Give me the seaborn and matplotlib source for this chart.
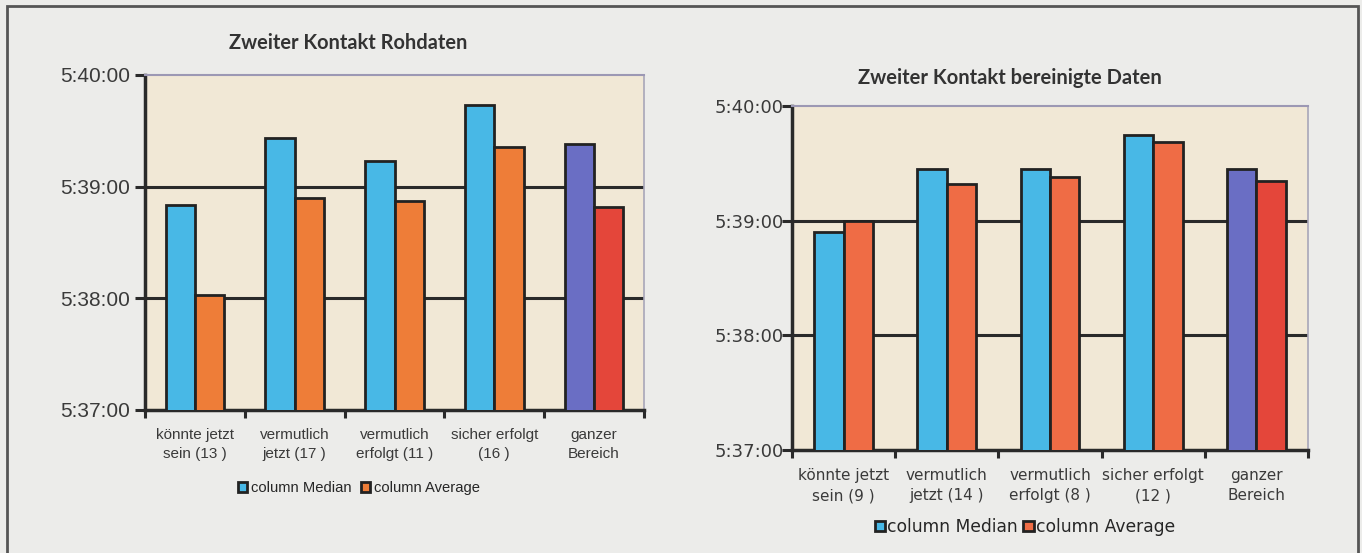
import pandas as pd
import matplotlib
matplotlib.use("Agg")
import matplotlib.pyplot as plt
import matplotlib.ticker as mticker
from matplotlib.patches import Rectangle
import seaborn as sns

# data (times of day)
cats_raw = ["könnte jetzt\nsein (13 )", "vermutlich\njetzt (17 )", "vermutlich\nerfolgt (11 )",
            "sicher erfolgt\n(16 )", "ganzer\nBereich"]
median_raw = ["5:38:50", "5:39:26", "5:39:14", "5:39:44", "5:39:23"]
average_raw = ["5:38:02", "5:38:54", "5:38:52", "5:39:21", "5:38:49"]

cats_clean = ["könnte jetzt\nsein (9 )", "vermutlich\njetzt (14 )", "vermutlich\nerfolgt (8 )",
              "sicher erfolgt\n(12 )", "ganzer\nBereich"]
median_clean = ["5:38:54", "5:39:27", "5:39:27", "5:39:45", "5:39:27"]
average_clean = ["5:39:00", "5:39:19", "5:39:23", "5:39:41", "5:39:21"]

y_ticks = ["5:37:00", "5:38:00", "5:39:00", "5:40:00"]


def to_sec(s):
    h, m, sec = [int(v) for v in s.split(":")]
    return h * 3600 + m * 60 + sec


def fmt_time(v, pos):
    v = int(round(v))
    return f"{v // 3600}:{(v % 3600) // 60:02d}:{v % 60:02d}"


def make_df(cats, med, avg):
    rows = []
    for c, m, a in zip(cats, med, avg):
        rows.append([c, "column Median", to_sec(m)])
        rows.append([c, "column Average", to_sec(a)])
    return pd.DataFrame(rows, columns=["cat", "series", "sec"])


df_raw = make_df(cats_raw, median_raw, average_raw)
df_clean = make_df(cats_clean, median_clean, average_clean)

sns.set_style("white")
bg = "#ececea"
fig = plt.figure(figsize=(13.62, 5.53), dpi=100, facecolor=bg)

ax1 = fig.add_axes([0.1065, 0.2586, 0.3663, 0.606])
ax2 = fig.add_axes([0.5815, 0.1863, 0.3789, 0.622])


def draw(ax, df, pal, last_cols, width, tick_font, tick_size, ypad, xt_font, xt_size, xpad):
    sns.barplot(data=df, x="cat", y="sec", hue="series", palette=pal, width=width, gap=0,
                saturation=1, edgecolor="#222222", linewidth=2, ax=ax, zorder=3)
    for cont, col in zip(ax.containers, last_cols):
        cont[-1].set_facecolor(col)
    ax.get_legend().remove()
    ax.set_facecolor("#f1e8d6")
    ax.set_ylim(to_sec(y_ticks[0]), to_sec(y_ticks[-1]))
    ax.set_xlim(-0.5, len(df["cat"].unique()) - 0.5)
    ax.set_yticks([to_sec(t) for t in y_ticks])
    ax.yaxis.set_major_formatter(mticker.FuncFormatter(fmt_time))
    for t in y_ticks[1:-1]:
        ax.axhline(to_sec(t), color="#2a2a2a", lw=2.2, zorder=1)
    ax.set_xlabel("")
    ax.set_ylabel("")
    for s in ["left", "bottom"]:
        ax.spines[s].set_color("#2a2a2a")
        ax.spines[s].set_linewidth(2.5)
    ax.spines["top"].set_color("#9c98b4")
    ax.spines["top"].set_linewidth(1.5)
    ax.spines["right"].set_color("#a8a6b8")
    ax.spines["right"].set_linewidth(1.2)
    ax.tick_params(axis="y", which="major", direction="out", length=7, width=2.2,
                   color="#2a2a2a", left=True, pad=ypad, labelcolor="#3a3a3a")
    ax.tick_params(axis="x", which="major", length=0, pad=xpad, labelcolor="#3a3a3a")
    ax.set_xticks([i - 0.5 for i in range(len(df["cat"].unique()) + 1)], minor=True)
    ax.tick_params(axis="x", which="minor", direction="out", length=6, width=2.2,
                   color="#2a2a2a", bottom=True)
    for lab in ax.get_yticklabels():
        lab.set_fontfamily(tick_font)
        lab.set_fontsize(tick_size)
    for lab in ax.get_xticklabels():
        lab.set_fontfamily(xt_font)
        lab.set_fontsize(xt_size)
        lab.set_linespacing(1.45)


draw(ax1, df_raw, ["#48b8e6", "#ee7d38"], ["#6a6ec4", "#e4463a"], 0.59,
     "Liberation Sans", 15, 4, "Liberation Sans", 11, 13)
draw(ax2, df_clean, ["#48b8e6", "#ef6c45"], ["#6a6ec4", "#e4463a"], 0.57,
     "DejaVu Sans", 13, -1, "DejaVu Sans", 11, 13)

fig.text(0.2555, 0.922, "Zweiter Kontakt Rohdaten", ha="center", va="center",
         fontfamily="Lato", fontweight="bold", fontsize=14.4, color="#333333")
fig.text(0.7416, 0.859, "Zweiter Kontakt bereinigte Daten", ha="center", va="center",
         fontfamily="Lato", fontweight="bold", fontsize=14.5, color="#333333")

h1, l1 = ax1.get_legend_handles_labels()
fig.legend(h1, l1, loc="center", bbox_to_anchor=(0.2636, 0.1175), ncol=2, frameon=False,
           handlelength=0.6, handleheight=0.6, handletextpad=0.3, columnspacing=0.6,
           prop={"family": "Liberation Sans", "size": 10.6})
h2, l2 = ax2.get_legend_handles_labels()
fig.legend(h2, l2, loc="center", bbox_to_anchor=(0.7525, 0.047), ncol=2, frameon=False,
           handlelength=0.6, handleheight=0.6, handletextpad=0.15, columnspacing=0.3,
           prop={"family": "DejaVu Sans", "size": 12.3})

fig.add_artist(Rectangle((0.0052, -0.05), 0.9919, 1.0391, transform=fig.transFigure,
                         fill=False, lw=2, edgecolor="#555555"))

fig.savefig("out.png", dpi=100, facecolor=bg)
